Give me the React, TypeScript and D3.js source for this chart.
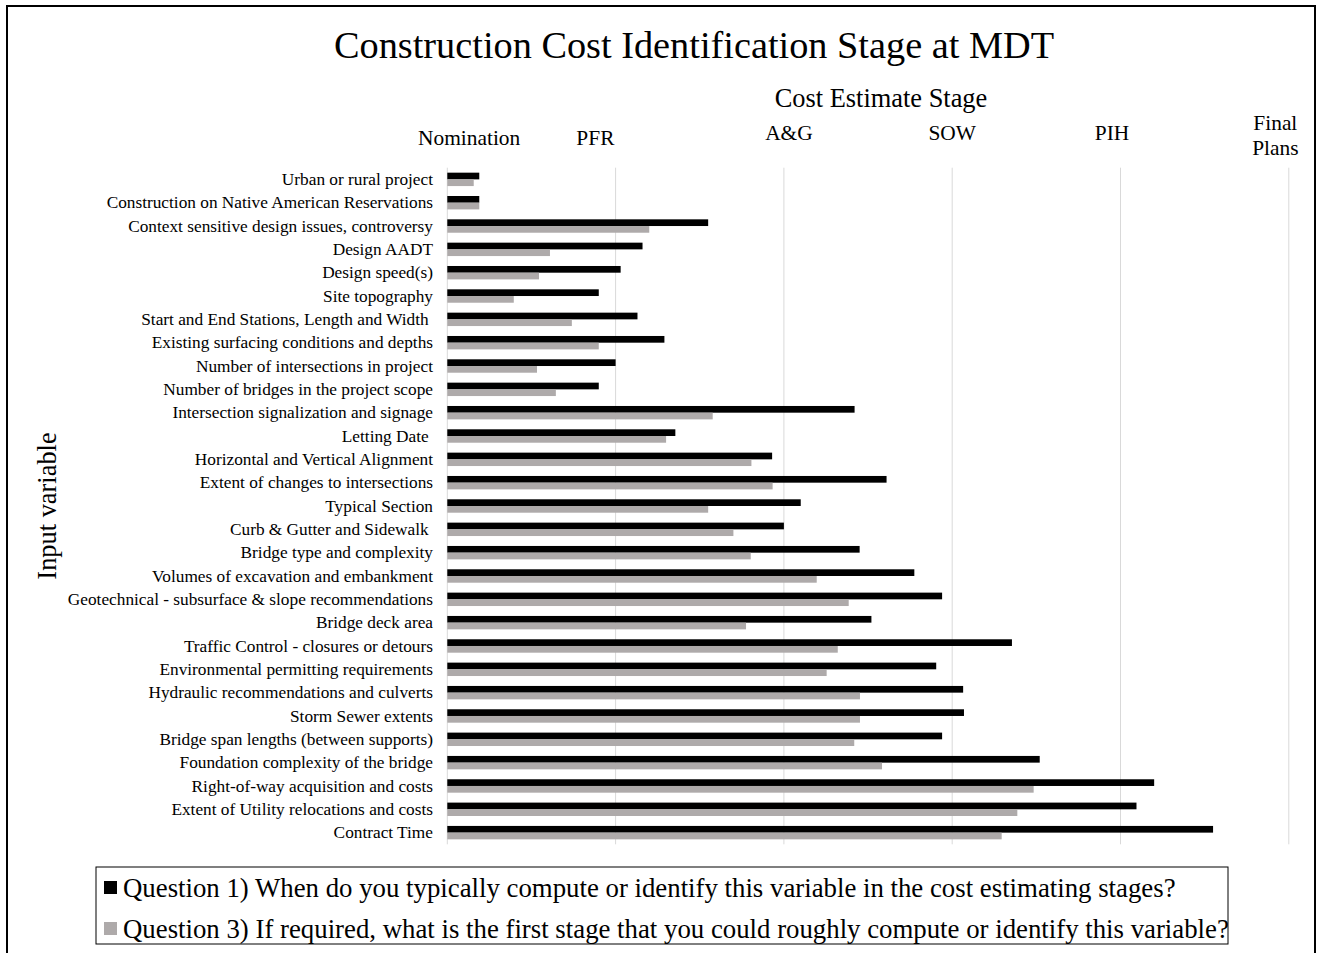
import React from "react";
import * as d3 from "d3";

const categories: string[] = [
  "Urban or rural project",
  "Construction on Native American Reservations",
  "Context sensitive design issues, controversy",
  "Design AADT",
  "Design speed(s)",
  "Site topography",
  "Start and End Stations, Length and Width ",
  "Existing surfacing conditions and depths",
  "Number of intersections in project",
  "Number of bridges in the project scope",
  "Intersection signalization and signage",
  "Letting Date ",
  "Horizontal and Vertical Alignment",
  "Extent of changes to intersections",
  "Typical Section",
  "Curb & Gutter and Sidewalk ",
  "Bridge type and complexity",
  "Volumes of excavation and embankment",
  "Geotechnical - subsurface & slope recommendations",
  "Bridge deck area",
  "Traffic Control - closures or detours",
  "Environmental permitting requirements",
  "Hydraulic recommendations and culverts",
  "Storm Sewer extents",
  "Bridge span lengths (between supports)",
  "Foundation complexity of the bridge",
  "Right-of-way acquisition and costs",
  "Extent of Utility relocations and costs",
  "Contract Time",
];

const question1: number[] = [
  0.19, 0.19, 1.55, 1.16, 1.03, 0.9, 1.13, 1.29, 1.0, 0.9, 2.42, 1.355, 1.93,
  2.61, 2.1, 2.0, 2.45, 2.775, 2.94, 2.52, 3.355, 2.905, 3.065, 3.07, 2.94,
  3.52, 4.2, 4.095, 4.55,
];

const question3: number[] = [
  0.157, 0.19, 1.2, 0.61, 0.545, 0.395, 0.74, 0.9, 0.533, 0.645, 1.577, 1.3,
  1.807, 1.933, 1.55, 1.7, 1.803, 2.195, 2.385, 1.775, 2.32, 2.254, 2.452,
  2.452, 2.418, 2.583, 3.484, 3.387, 3.294,
];

const stageLabels: string[][] = [
  ["Nomination"],
  ["PFR"],
  ["A&G"],
  ["SOW"],
  ["PIH"],
  ["Final", "Plans"],
];
const stageLabelPos: number[] = [0.13, 0.88, 2.03, 3.0, 3.95, 4.92];

const xTicks: number[] = [0, 1, 2, 3, 4, 5];

const seriesNames: string[] = [
  "Question 1) When do you typically compute or identify this variable in the cost estimating stages?",
  "Question 3) If required, what is the first stage that you could roughly compute or identify this variable?",
];
const seriesKeys = ["q1", "q3"];
const seriesColors: string[] = ["#000000", "#AEAAAA"];

const FONT = "'Liberation Serif', 'Times New Roman', serif";

export default function App() {
  const W = 1320;
  const H = 953;
  const x = d3.scaleLinear().domain([0, 5]).range([447.3, 1288.8]);
  const y = d3
    .scaleBand<string>()
    .domain(categories)
    .range([167.7, 844.3])
    .paddingInner(0)
    .paddingOuter(0);
  const step = y.step();
  const inner = d3
    .scaleBand<string>()
    .domain(seriesKeys)
    .range([0, step])
    .paddingInner(0)
    .paddingOuter(0.741);

  const values = [question1, question3];

  return (
    <svg
      width={W}
      height={H}
      style={{ position: "absolute", left: 0, top: 0, background: "#fff" }}
      fontFamily={FONT}
    >
      <defs>
        <clipPath id="legclip">
          <rect x={96} y={867} width={1132} height={77} />
        </clipPath>
      </defs>
      <rect x={0} y={0} width={W} height={H} fill="#fff" />
      {/* outer frame */}
      <rect
        x={7}
        y={6}
        width={1308}
        height={H + 20}
        fill="none"
        stroke="#000"
        strokeWidth={2}
      />
      {/* title */}
      <text x={694} y={58} textAnchor="middle" fontSize={38.3} fill="#000">
        Construction Cost Identification Stage at MDT
      </text>
      <text x={881} y={107} textAnchor="middle" fontSize={26.4} fill="#000">
        Cost Estimate Stage
      </text>
      {stageLabels.map((lines, i) => {
        const baseY = lines.length > 1 ? 130 : i < 2 ? 145 : 140;
        return (
          <text
            key={i}
            x={x(stageLabelPos[i])}
            y={baseY}
            textAnchor="middle"
            fontSize={21.4}
            fill="#000"
          >
            {lines.map((l, j) => (
              <tspan key={j} x={x(stageLabelPos[i])} dy={j === 0 ? 0 : 25}>
                {l}
              </tspan>
            ))}
          </text>
        );
      })}
      {/* gridlines */}
      {xTicks.map((t) => (
        <line
          key={t}
          x1={x(t)}
          x2={x(t)}
          y1={167.7}
          y2={844.3}
          stroke="#D9D9D9"
          strokeWidth={1}
        />
      ))}
      {/* bars */}
      {categories.map((c, i) => (
        <g key={c} transform={`translate(0,${y(c)})`}>
          {seriesKeys.map((k, s) => (
            <rect
              key={k}
              x={x(0)}
              y={inner(k)}
              width={x(values[s][i]) - x(0)}
              height={inner.bandwidth()}
              fill={seriesColors[s]}
            />
          ))}
        </g>
      ))}
      {/* category labels */}
      {categories.map((c) => (
        <text
          key={c}
          x={433}
          y={(y(c) as number) + step / 2 + 5.8}
          textAnchor="end"
          fontSize={17.3}
          fill="#000"
          style={{ whiteSpace: "pre" }}
        >
          {c}
        </text>
      ))}
      {/* y axis title */}
      <text
        transform="translate(56,506) rotate(-90)"
        textAnchor="middle"
        fontSize={26.4}
        fill="#000"
      >
        Input variable
      </text>
      {/* legend */}
      <rect
        x={96}
        y={867}
        width={1132}
        height={77}
        fill="#fff"
        stroke="#000"
        strokeWidth={1}
      />
      <g clipPath="url(#legclip)">
        {seriesNames.map((n, i) => (
          <g key={n}>
            <rect
              x={104}
              y={881 + i * 41}
              width={13}
              height={13}
              fill={seriesColors[i]}
            />
            <text x={123} y={897 + i * 41} fontSize={26.8} fill="#000">
              {n}
            </text>
          </g>
        ))}
      </g>
    </svg>
  );
}
